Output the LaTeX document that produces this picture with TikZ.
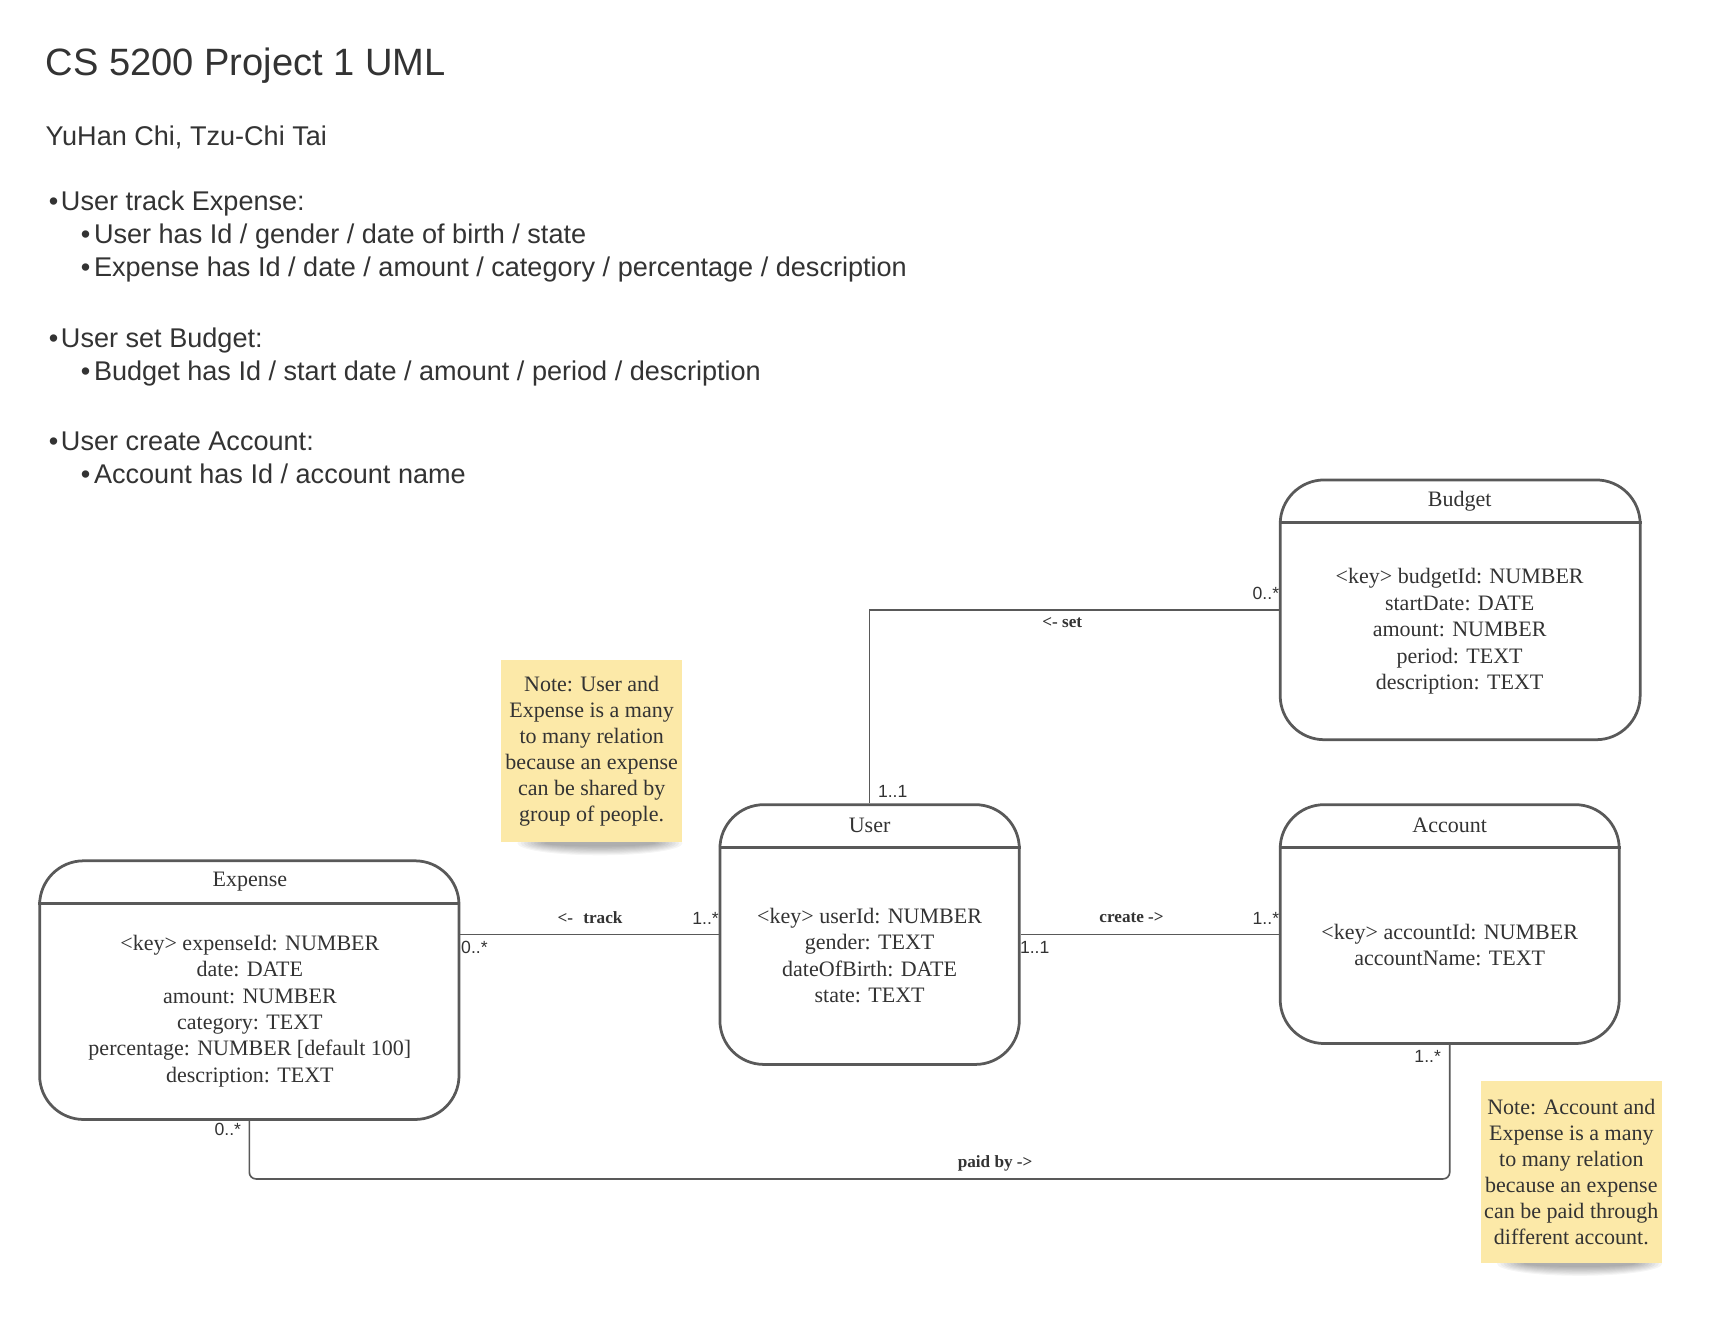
\documentclass[tikz,border=0pt]{standalone}
\usepackage{fontspec}
\setmainfont{Liberation Serif}
\newfontfamily\arial{Liberation Sans}
\usetikzlibrary{calc}
\definecolor{txt}{HTML}{333333}
\definecolor{edge}{HTML}{595959}
\definecolor{notey}{HTML}{FCE9A8}
\begin{document}
\begin{tikzpicture}[x=0.5pt,y=-0.5pt,
  umlbox/.style={draw=edge, line width=1.25pt, rounded corners=20pt, fill=white, inner sep=0pt},
  hdr/.style={draw=edge, line width=1.25pt},
  boxtitle/.style={font=\fontsize{10}{12}\selectfont, text=txt, inner sep=0pt},
  attrs/.style={font=\fontsize{10}{12}\selectfont, text=txt, align=center, inner sep=0pt},
  conn/.style={draw=edge, line width=0.75pt},
  mult/.style={font=\arial\fontsize{8}{9}\selectfont, text=txt, inner sep=0pt},
  rel/.style={font=\bfseries\fontsize{7.8}{9}\selectfont, text=txt, inner sep=0pt},
  note/.style={fill=notey, text=txt, align=center, inner sep=0pt, minimum width=82.5pt, minimum height=82.5pt, font=\fontsize{10}{11.8}\selectfont},
  shade layer/.style={fill=black, opacity=0.04},
  heading/.style={font=\arial\fontsize{17.3}{20}\selectfont, text=txt, anchor=base west, inner sep=0pt},
  body/.style={font=\arial\fontsize{12.3}{15}\selectfont, text=txt, anchor=base west, inner sep=0pt},
]
\useasboundingbox[fill=white] (0,0) rectangle (1568,1203);

% header text
\node[heading] (title) at (41,69) {CS 5200 Project 1 UML};
\node[body] (authors) at (41,132.5) {YuHan Chi, Tzu-Chi Tai};
\node[body] (bu1) at (44,191.5) {•};
\node[body] (tx1) at (55,191.5) {User track Expense:};
\node[body] (bu2) at (73,221.5) {•};
\node[body] (tx2) at (85,221.5) {User has Id / gender / date of birth / state};
\node[body] (bu3) at (73,251.5) {•};
\node[body] (tx3) at (85,251.5) {Expense has Id / date / amount / category / percentage / description};
\node[body] (bu4) at (44,315.5) {•};
\node[body] (tx4) at (55,315.5) {User set Budget:};
\node[body] (bu5) at (73,345.5) {•};
\node[body] (tx5) at (85,345.5) {Budget has Id / start date / amount / period / description};
\node[body] (bu6) at (44,409.5) {•};
\node[body] (tx6) at (55,409.5) {User create Account:};
\node[body] (bu7) at (73,439.5) {•};
\node[body] (tx7) at (85,439.5) {Account has Id / account name};

% boxes
\node[umlbox, minimum width=163.5pt, minimum height=118pt] (budget) at (1326.5,554) {};
\node[umlbox, minimum width=136pt, minimum height=118pt] (user) at (790,849) {};
\node[umlbox, minimum width=154pt, minimum height=108.5pt] (account) at (1317,839.5) {};
\node[umlbox, minimum width=190.5pt, minimum height=117.5pt] (expense) at (226.5,899.5) {};

\foreach \b in {budget,user,account,expense}{
  \draw[hdr] ($(\b.north west)+(0,40)$) -- ($(\b.north east)+(0,40)$);
}

\node[boxtitle] (budgetT) at (1326,455) {Budget};
\node[boxtitle] (userT) at (790,750) {User};
\node[boxtitle] (accountT) at (1317,750) {Account};
\node[boxtitle] (expenseT) at (227,801) {Expense};

\node[attrs] (budgetA) at (1326,573.5) {<key> budgetId: NUMBER\\startDate: DATE\\amount: NUMBER\\period: TEXT\\description: TEXT};
\node[attrs] (userA) at (790,868) {<key> userId: NUMBER\\gender: TEXT\\dateOfBirth: DATE\\state: TEXT};
\node[attrs] (accountA) at (1317,858.5) {<key> accountId: NUMBER\\accountName: TEXT};
\node[attrs] (expenseA) at (227,918.5) {<key> expenseId: NUMBER\\date: DATE\\amount: NUMBER\\category: TEXT\\percentage: NUMBER [default 100]\\description: TEXT};

% note shadows
\foreach \i in {1,...,9}{
  \fill[shade layer] (545,766) ellipse [x radius={78-3*\i}, y radius={12-\i}];
  \fill[shade layer] (1435,1148) ellipse [x radius={78-3*\i}, y radius={12-\i}];
}
% notes
\node[note] (note1) at (537.5,682.5) {Note: User and\\Expense is a many\\to many relation\\because an expense\\can be shared by\\group of people.};
\node[note] (note2) at (1427.5,1064.5) {Note: Account and\\Expense is a many\\to many relation\\because an expense\\can be paid through\\different account.};

% connectors
\draw[conn] (user.north) |- (budget.west);
\draw[conn] (user.west) -- (user.west -| expense.east);
\draw[conn] (user.east) -- (user.east -| account.west);
\coordinate (pb) at (700,1071);
\draw[conn, rounded corners=3pt] (expense.south) |- (pb) -| (account.south);

% connector labels
\node[rel] (lset) at (965,566) {<- set};
\node[rel] (ltrack) at (536,834) {<-\hspace{0.6em}track};
\node[rel] (lcreate) at (1028,834) {create ->};
\node[rel] (lpaid) at (904,1057) {paid by ->};

\node[mult] (m1) at (811,719) {1..1};
\node[mult] (m2) at (1150,539) {0..*};
\node[mult] (m3) at (641,834) {1..*};
\node[mult] (m4) at (431,861) {0..*};
\node[mult] (m5) at (940,861) {1..1};
\node[mult] (m6) at (1150,834) {1..*};
\node[mult] (m7) at (207,1026) {0..*};
\node[mult] (m8) at (1297,960) {1..*};
\end{tikzpicture}
\end{document}
